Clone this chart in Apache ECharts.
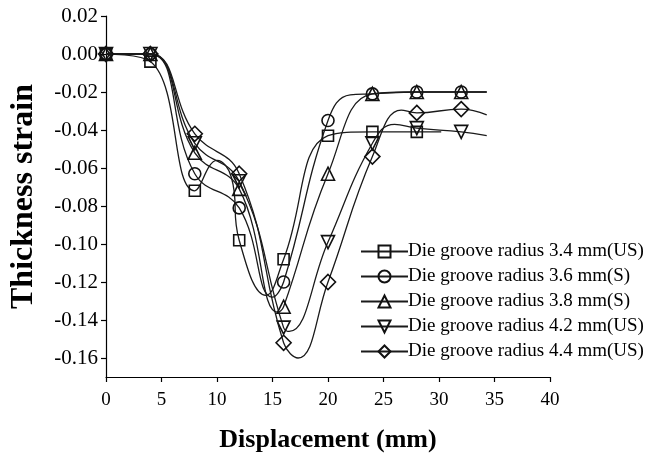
<!DOCTYPE html>
<html>
<head>
<meta charset="utf-8">
<script src="https://cdn.jsdelivr.net/npm/echarts@6/dist/echarts.min.js"></script>
<style>
  html, body { margin: 0; padding: 0; background: #fff; }
  #chart { width: 669px; height: 454px; }
</style>
</head>
<body>
<div id="chart"></div>
<script>
// Sampled displacements (mm) where markers are drawn
const xMarks = [0, 4, 8, 12, 16, 20, 24, 28, 32];

// Thickness strain at each sampled displacement
const r34 = [0, -0.004, -0.072, -0.098, -0.108, -0.043, -0.041, -0.041];
const r36 = [0, 0, -0.063, -0.081, -0.120, -0.035, -0.021, -0.020, -0.020];
const r38 = [0, 0, -0.052, -0.071, -0.133, -0.063, -0.021, -0.020, -0.020];
const r42 = [0, 0, -0.047, -0.067, -0.144, -0.099, -0.047, -0.039, -0.041];
const r44 = [0, 0, -0.042, -0.063, -0.152, -0.120, -0.054, -0.031, -0.029];

// Additional points along each fitted curve (no marker drawn)
const c34 = [[10, -0.056], [11.3, -0.065], [14.4, -0.127], [30.2, -0.041]];
const c36 = [[15, -0.128], [22, -0.0215], [34.3, -0.020]];
const c38 = [[15.5, -0.136], [34.3, -0.020]];
const c42 = [[16.5, -0.146], [26, -0.037], [34.3, -0.043]];
const c44 = [[17.3, -0.160], [26.6, -0.0295], [34.3, -0.032]];

const names = [
  'Die groove radius 3.4 mm(US)',
  'Die groove radius 3.6 mm(S)',
  'Die groove radius 3.8 mm(S)',
  'Die groove radius 4.2 mm(US)',
  'Die groove radius 4.4 mm(US)'
];

const yTicks = [-0.16, -0.14, -0.12, -0.10, -0.08, -0.06, -0.04, -0.02, 0.00, 0.02];

const symbols = [
  { symbol: 'rect', size: 11, rotate: 0 },
  { symbol: 'circle', size: 12, rotate: 0 },
  { symbol: 'triangle', size: 13, rotate: 0 },
  { symbol: 'triangle', size: 13, rotate: 180 },
  { symbol: 'diamond', size: 15, rotate: 0 }
];

function buildData(vals, extra) {
  const pts = vals.map((v, i) => ({ value: [xMarks[i], v] }));
  extra.forEach(p => pts.push({ value: p, symbol: 'none' }));
  pts.sort((a, b) => a.value[0] - b.value[0]);
  return pts;
}

const sets = [[r34, c34], [r36, c36], [r38, c38], [r42, c42], [r44, c44]];

const series = sets.map((s, i) => ({
  name: names[i],
  type: 'line',
  data: buildData(s[0], s[1]),
  smooth: 0.45,
  symbol: symbols[i].symbol,
  symbolSize: symbols[i].size,
  symbolRotate: symbols[i].rotate,
  showAllSymbol: true,
  lineStyle: { color: '#1a1a1a', width: 1.3 },
  itemStyle: { color: 'rgba(255,255,255,0)', borderColor: '#111', borderWidth: 1.6 },
  emphasis: { disabled: true },
  z: 2 + i
}));

const serif = '"Liberation Serif", "Times New Roman", serif';

const chart = echarts.init(document.getElementById('chart'), null, { renderer: 'canvas' });
chart.setOption({
  animation: false,
  backgroundColor: '#fff',
  grid: { left: 106, right: 119, top: 16, bottom: 77, containLabel: false, outerBoundsMode: 'none' },
  xAxis: {
    type: 'value',
    min: 0, max: 40, interval: 5,
    name: 'Displacement (mm)',
    nameLocation: 'middle',
    nameGap: 50,
    nameTextStyle: { fontFamily: serif, fontWeight: 'bold', fontSize: 26, color: '#000' },
    axisLine: { onZero: false, lineStyle: { color: '#000', width: 1.2 } },
    axisTick: { inside: false, length: 5, lineStyle: { color: '#000', width: 1.2 } },
    axisLabel: { fontFamily: serif, fontSize: 19, color: '#000', margin: 14 },
    splitLine: { show: false }
  },
  yAxis: {
    type: 'value',
    min: -0.17, max: 0.02,
    name: 'Thickness strain',
    nameLocation: 'middle',
    nameGap: 66,
    nameTextStyle: { fontFamily: serif, fontWeight: 'bold', fontSize: 32, color: '#000' },
    axisLine: { show: true, onZero: false, lineStyle: { color: '#000', width: 1.2 } },
    axisTick: { show: true, length: 5, customValues: yTicks, lineStyle: { color: '#000', width: 1.2 } },
    axisLabel: {
      fontFamily: serif, fontSize: 21, color: '#000', margin: 8,
      customValues: yTicks,
      formatter: v => v.toFixed(2)
    },
    splitLine: { show: false }
  },
  legend: {
    orient: 'vertical',
    left: 355,
    top: 237,
    itemWidth: 47,
    itemHeight: 15,
    itemGap: 6,
    textStyle: { fontFamily: serif, fontSize: 19, color: '#000', padding: [0, 0, 0, -5] },
    data: names
  },
  series: series
});
</script>
</body>
</html>
